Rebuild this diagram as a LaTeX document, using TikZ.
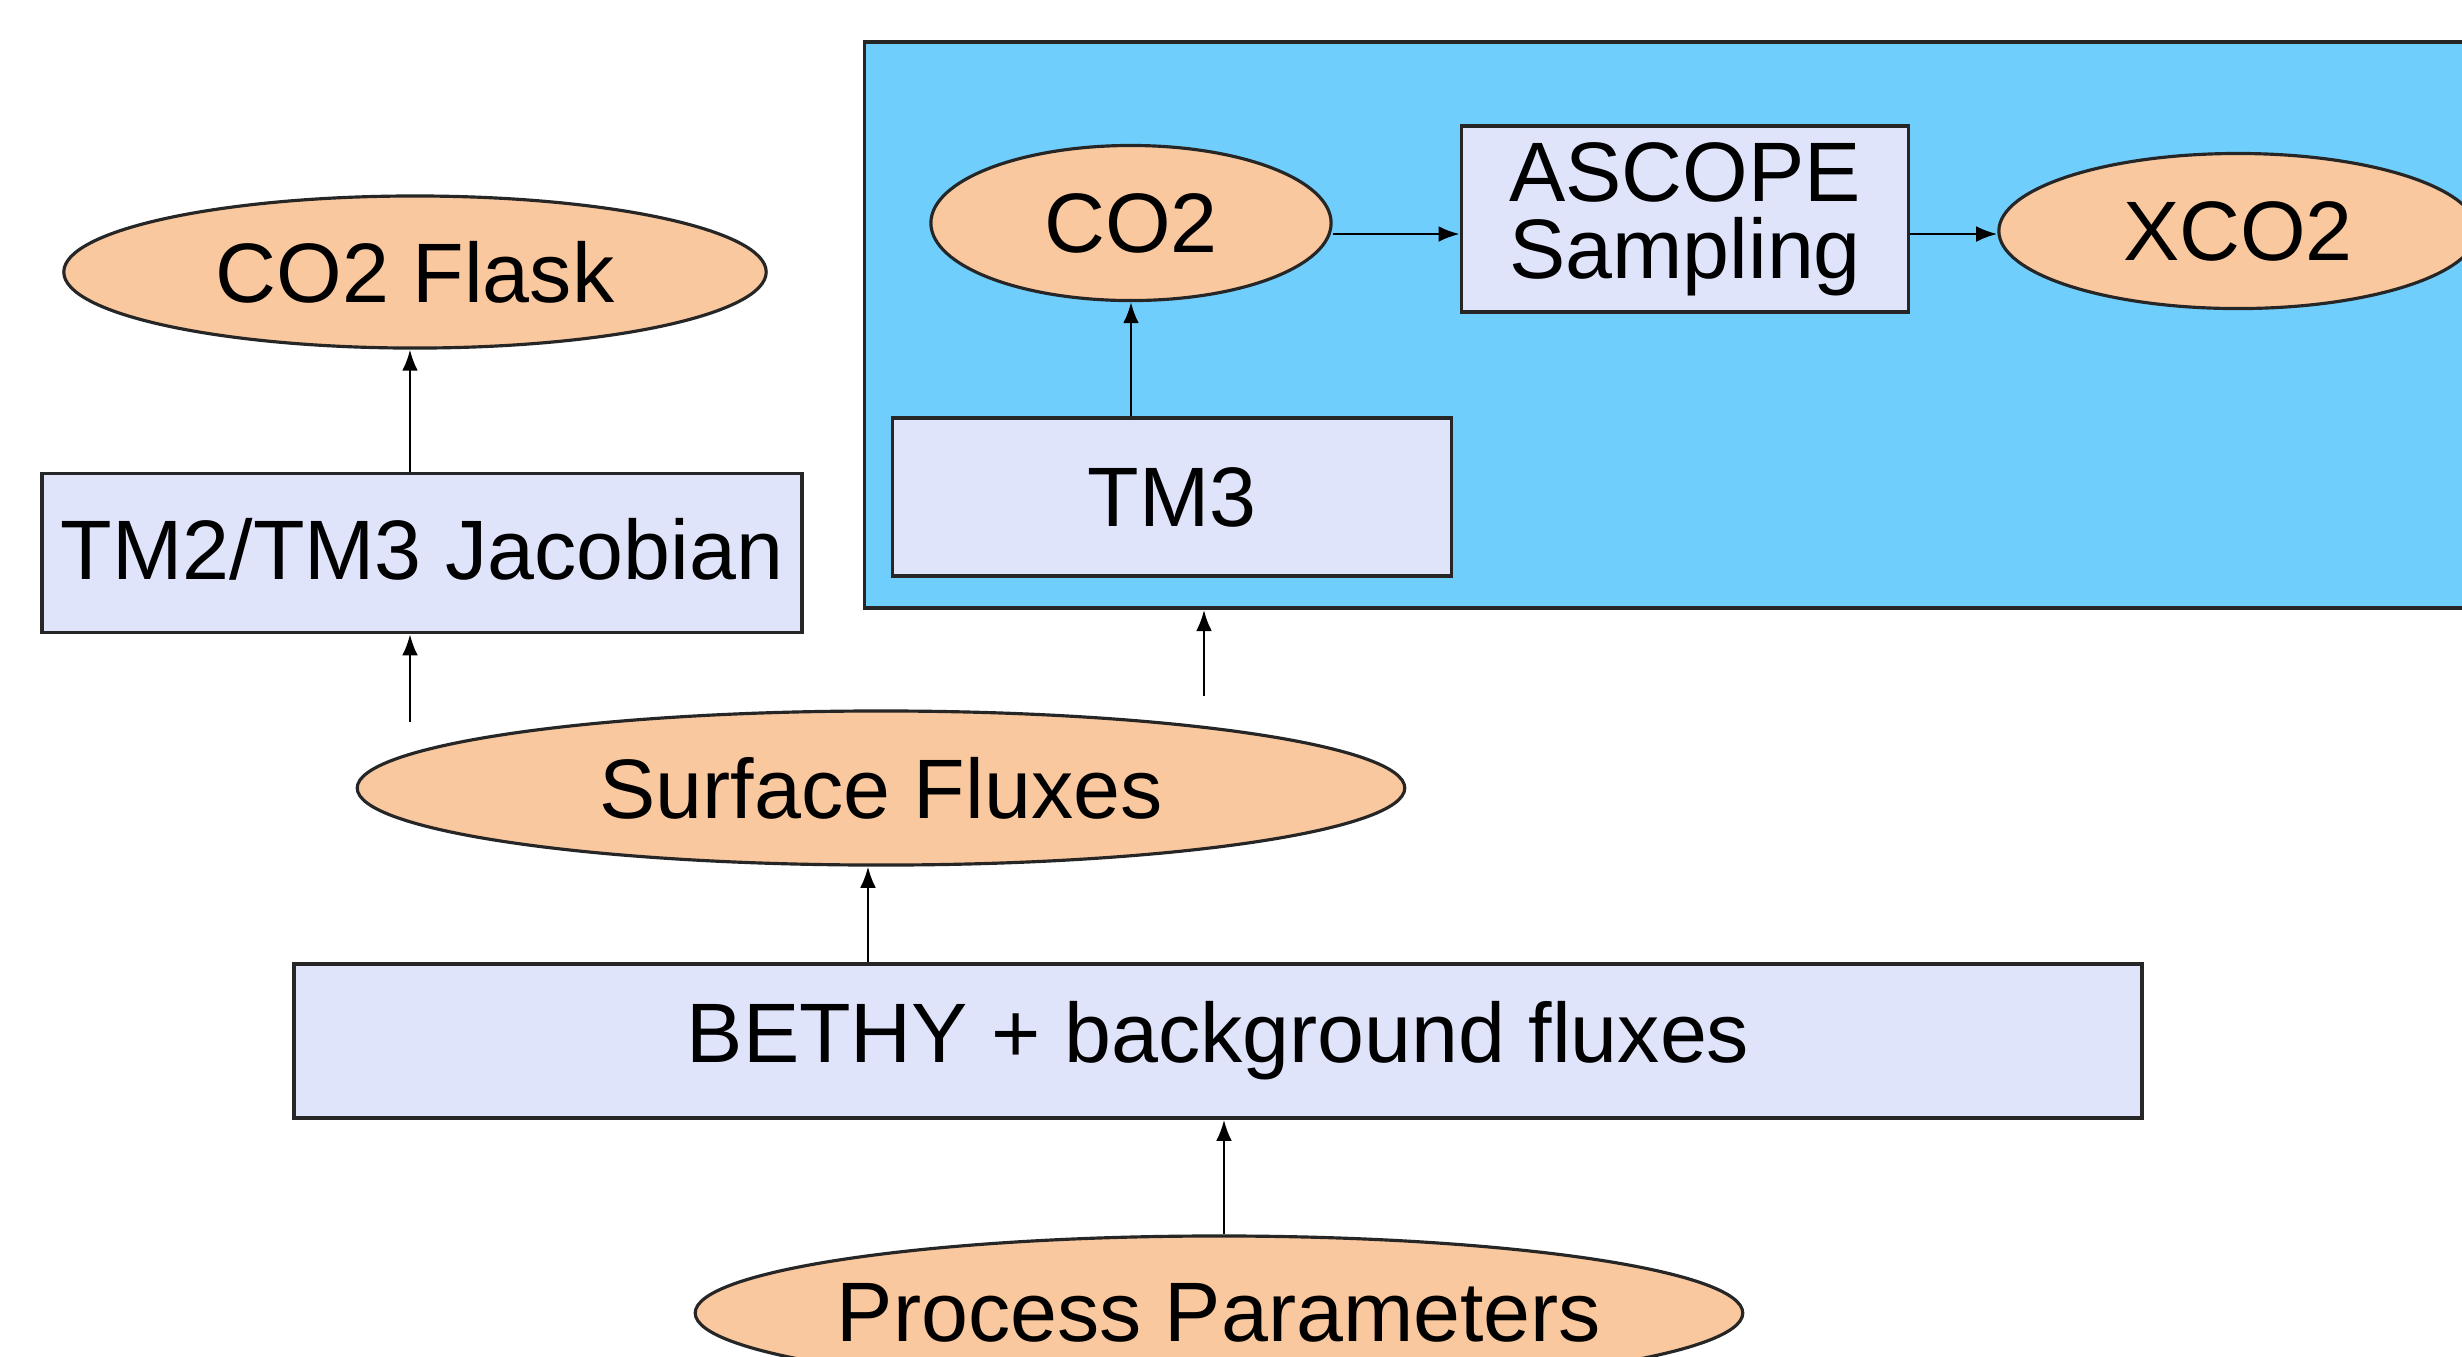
\documentclass[tikz,border=0pt]{standalone}
\usepackage{fontspec}
\setmainfont{Liberation Sans}
\usetikzlibrary{shapes.geometric,arrows.meta}
\definecolor{ovalfill}{RGB}{250,200,158}
\definecolor{boxfill}{RGB}{224,228,250}
\definecolor{bluefill}{RGB}{112,206,252}
\begin{document}
\begin{tikzpicture}[x=0.01cm,y=-0.01cm,
  oval/.style={ellipse,draw=black!85,line width=0.9pt,fill=ovalfill,inner sep=0pt,font=\fontsize{24}{22}\selectfont},
  box/.style={rectangle,draw=black!85,line width=1pt,fill=boxfill,inner sep=0pt,align=center,font=\fontsize{24}{22}\selectfont},
  bluebox/.style={rectangle,draw=black!85,line width=1pt,fill=bluefill,inner sep=0pt},
  arr/.style={-{Latex[length=6pt,width=4.5pt]},line width=0.7pt,black}]
\useasboundingbox (0,0) rectangle (2462,1356);
\clip (0,0) rectangle (2462,1356);
\fill[white] (0,0) rectangle (2462,1356);
% blue panel
\node[bluebox,minimum width=16.2cm,minimum height=5.66cm] (panel) at (1675,325) {};
% nodes
\node[oval,minimum width=7.02cm,minimum height=1.52cm] (flask) at (415,272) {CO2 Flask};
\node[box,minimum width=7.6cm,minimum height=1.59cm] (jac) at (422,553) {\raisebox{0.08cm}{TM2/TM3 Jacobian}};
\node[oval,minimum width=4.0cm,minimum height=1.55cm] (co2) at (1131,223) {CO2};
\node[box,minimum width=4.47cm,minimum height=1.86cm] (ascope) at (1685,219) {ASCOPE\\Sampling};
\node[oval,minimum width=4.78cm,minimum height=1.55cm] (xco2) at (2238,231) {XCO2};
\node[box,minimum width=5.59cm,minimum height=1.58cm] (tm3) at (1172,497) {TM3};
\node[oval,minimum width=10.47cm,minimum height=1.54cm] (surf) at (881,788) {\makebox[0pt]{Surface Fluxes}};
\node[box,minimum width=18.47cm,minimum height=1.54cm] (bethy) at (1218,1041) {BETHY + background fluxes};
\node[oval,minimum width=10.47cm,minimum height=1.54cm] (proc) at (1219,1313) {\makebox[0pt]{Process Parameters}};
% helper coordinates
\coordinate (sfa) at (410,722);
\coordinate (sfb) at (1204,696);
\coordinate (co2e) at ([yshift=-0.11cm]co2.east);
\coordinate (asce) at (ascope.east |- co2e);
\coordinate (fl) at ([xshift=-0.05cm]flask.south);
\coordinate (sfc) at ([xshift=-0.13cm]surf.south);
\coordinate (pr) at ([xshift=0.05cm]proc.north);
% connectors
\draw[arr] (fl |- jac.north) -- (fl);
\draw[arr] (co2.south |- tm3.north) -- (co2.south);
\draw[arr] (co2e) -- (ascope.west |- co2e);
\draw[arr] (asce) -- (xco2.west |- asce);
\draw[arr] (sfa) -- (sfa |- jac.south);
\draw[arr] (sfb) -- (sfb |- panel.south);
\draw[arr] (sfc |- bethy.north) -- (sfc);
\draw[arr] (pr) -- (pr |- bethy.south);
\end{tikzpicture}
\end{document}
